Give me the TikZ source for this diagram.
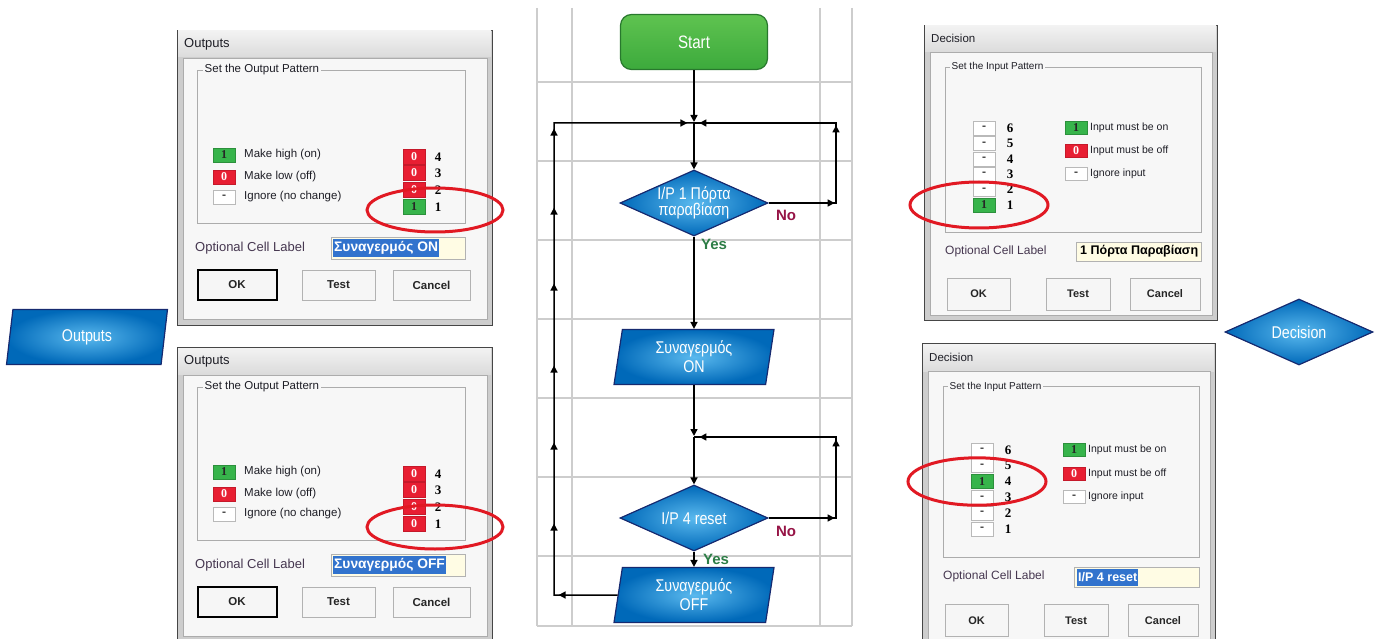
\documentclass[tikz,border=0pt]{standalone}
\usepackage{fontspec}
\setmainfont{Liberation Sans}
\newfontfamily\condf[FakeStretch=0.84]{Liberation Sans}
\newfontfamily\serf{Liberation Serif}
\usetikzlibrary{shapes.geometric,arrows.meta,decorations.markings}
\newcommand\fsz[1]{\fontsize{#1}{#1}\selectfont}
\newcommand\tri{\arrow{Triangle[length=7pt,width=7pt]}}
\definecolor{gridc}{RGB}{205,205,205}
\definecolor{bluein}{RGB}{90,185,238}
\definecolor{blueout}{RGB}{0,105,185}
\definecolor{blueedge}{RGB}{22,42,112}
\definecolor{gtop}{RGB}{95,195,80}
\definecolor{gbot}{RGB}{60,170,60}
\definecolor{gedge}{RGB}{40,120,45}
\definecolor{nocol}{RGB}{150,20,70}
\definecolor{yescol}{RGB}{45,125,70}
\definecolor{framec}{RGB}{205,205,205}
\definecolor{bodyc}{RGB}{247,247,247}
\definecolor{cgreen}{RGB}{55,180,75}
\definecolor{cred}{RGB}{232,30,50}
\definecolor{hl}{RGB}{50,115,205}
\definecolor{fieldc}{RGB}{255,252,228}
\definecolor{ellc}{RGB}{225,25,35}
\definecolor{lblc}{RGB}{70,55,80}
\definecolor{txt}{RGB}{30,30,38}
\tikzset{
 gridl/.style={draw=gridc, line width=1.1pt},
 flow/.style={line width=1.5pt, draw=black},
 arr/.style={flow, -{Triangle[length=7pt,width=7pt]}},
 blue/.style={inner color=bluein, outer color=blueout, draw=blueedge, line width=1.2pt, text=white, font=\condf\fsz{17}, align=center, inner sep=0pt},
 dec/.style={blue, diamond, aspect=2.24, minimum width=148pt, minimum height=66pt},
 para/.style={blue, trapezium, trapezium left angle=82, trapezium right angle=98, trapezium stretches=true, minimum width=161pt, minimum height=55pt},
 startbox/.style={rectangle, rounded corners=11pt, top color=gtop, bottom color=gbot, draw=gedge, line width=1.2pt, text=white, font=\condf\fsz{18}, minimum width=147pt, minimum height=55pt},
 nolab/.style={text=nocol, font=\bfseries\fsz{15}},
 yeslab/.style={text=yescol, font=\bfseries\fsz{15}},
 dtxt/.style={text=txt, inner sep=0pt, anchor=west},
 cellbase/.style={minimum width=22pt, minimum height=14pt, inner sep=0pt, font=\serf\bfseries\fsz{12}},
 cellg/.style={cellbase, fill=cgreen, draw=cgreen!80!black, text=black!85},
 cellr/.style={cellbase, fill=cred, draw=cred!85!black, text=white},
 cellw/.style={cellbase, fill=white, draw=gray!55, text=black},
 numf/.style={font=\serf\bfseries\fsz{13}, text=black, inner sep=0pt},
 btn/.style={draw=gray!60, fill=gray!7, line width=1pt, inner sep=0pt, text=black!85, font=\bfseries\fsz{11.5}},
 okbtn/.style={btn, draw=black, line width=2pt},
 ring/.style={draw=ellc, line width=3pt},
 field/.style={fill=fieldc, draw=gray!60},
}
% Outputs dialog: #1 prefix, #2 style of cell 1, #3 text of cell 1, #4 label
\newcommand\outdlg[4]{%
 \draw[fill=framec, draw=gray!55!black] (177,30) rectangle (492,325);
 \shade[top color=gray!10, bottom color=gray!28] (178,31) rectangle (491,57);
 \draw[fill=bodyc, draw=gray!65] (183,58) rectangle (487,319);
 \node[dtxt, font=\fsz{13}] (#1t) at (184,44) {Outputs};
 \draw[draw=gray!65, line width=0.8pt] (197,70) rectangle (465,223);
 \node[dtxt, fill=bodyc, inner sep=1.5pt, font=\fsz{11.5}] (#1g) at (203,70) {Set the Output Pattern};
 \node[cellg] (#1a) at (224,155) {1};
 \node[dtxt, font=\fsz{11.5}] (#1at) at (244,155) {Make high (on)};
 \node[cellr] (#1b) at (224,177) {0};
 \node[dtxt, font=\fsz{11.5}] (#1bt) at (244,177) {Make low (off)};
 \node[cellw] (#1c) at (224,197) {-};
 \node[dtxt, font=\fsz{11.5}] (#1ct) at (244,197) {Ignore (no change)};
 \node[cellr, minimum height=15pt] (#1c4) at (414,157) {0};
 \node[numf] (#1n4) at (438,157) {4};
 \node[cellr, minimum height=15pt] (#1c3) at (414,173) {0};
 \node[numf] (#1n3) at (438,173) {3};
 \node[cellr, minimum height=15pt] (#1c2) at (414,190) {0};
 \node[numf] (#1n2) at (438,190) {2};
 \node[#2, minimum height=15pt] (#1c1) at (414,207) {#3};
 \node[numf] (#1n1) at (438,207) {1};
 \draw[ring] (435,210) ellipse (68 and 22);
 \node[dtxt, font=\fsz{13}, text=lblc] (#1o) at (195,248) {Optional Cell Label};
 \draw[field] (331,237) rectangle (465,259);
 \node[dtxt, fill=hl, text=white, font=\bfseries\fsz{13.8}, inner sep=1pt, minimum height=18pt] (#1l) at (333,248) {#4};
 \node[okbtn, minimum width=79pt, minimum height=30pt] (#1ok) at (237,285) {OK};
 \node[btn, minimum width=73pt, minimum height=30pt] (#1te) at (338.5,285) {Test};
 \node[btn, minimum width=77pt, minimum height=30pt] (#1ca) at (431.5,285) {Cancel};
}
% Decision dialog: #1 prefix, #2 green row, #3 label, #4 label style
\newcommand\decdlg[4]{%
 \draw[fill=framec, draw=gray!55!black] (924,25) rectangle (1217,320);
 \shade[top color=gray!10, bottom color=gray!28] (925,26) rectangle (1216,52);
 \draw[fill=bodyc, draw=gray!65] (930,52) rectangle (1212,315);
 \node[dtxt, font=\fsz{11.5}] (#1t) at (931,38) {Decision};
 \draw[draw=gray!65, line width=0.8pt] (945,67) rectangle (1201,232);
 \node[dtxt, fill=bodyc, inner sep=1.5pt, font=\fsz{10}] (#1g) at (950,67) {Set the Input Pattern};
 \foreach \k in {1,...,6}{%
   \pgfmathsetmacro\yy{128+(6-\k)*15.4}%
   \ifnum\k=#2\relax \node[cellg] (#1c\k) at (984,\yy) {1};\else \node[cellw] (#1c\k) at (984,\yy) {-};\fi
   \node[numf] (#1n\k) at (1010,\yy) {\k};
 }
 \pgfmathsetmacro\ey{128+(6-#2)*15.4}
 \draw[ring] (979,\ey) ellipse (69 and 23);
 \node[cellg, minimum height=13pt] (#1a) at (1076,128) {1};
 \node[dtxt, font=\fsz{10.5}] (#1at) at (1090,128) {Input must be on};
 \node[cellr, minimum height=13pt] (#1b) at (1076,151) {0};
 \node[dtxt, font=\fsz{10.5}] (#1bt) at (1090,151) {Input must be off};
 \node[cellw, minimum height=13pt] (#1c) at (1076,174) {-};
 \node[dtxt, font=\fsz{10.5}] (#1ct) at (1090,174) {Ignore input};
 \node[dtxt, font=\fsz{12}, text=lblc] (#1o) at (945,251) {Optional Cell Label};
 \draw[field] (1076,242) rectangle (1201,261);
 \node[dtxt, font=\bfseries\fsz{12.5}, inner sep=1pt, minimum height=17pt, #4] (#1l) at (1079,251.5) {#3};
 \node[btn, minimum width=63pt, minimum height=32pt, font=\bfseries\fsz{11}] (#1ok) at (978.5,294) {OK};
 \node[btn, minimum width=64pt, minimum height=32pt, font=\bfseries\fsz{11}] (#1te) at (1078,294) {Test};
 \node[btn, minimum width=70pt, minimum height=32pt, font=\bfseries\fsz{11}] (#1ca) at (1165,294) {Cancel};
}
\begin{document}
\begin{tikzpicture}[x=1pt,y=-1pt]
\clip (0,0) rectangle (1379,639);
\fill[white] (0,0) rectangle (1379,639);
% grid
\foreach \x in {537,572,820,852} \draw[gridl] (\x,8) -- (\x,626);
\foreach \y in {82,161,240,319,398,477,556,626} \draw[gridl] (537,\y) -- (852,\y);
% flowchart
\node[startbox] (start) at (694,42) {Start};
\coordinate (j1) at (694,123);
\coordinate (j2) at (694,437);
\coordinate (lb) at (554,595);
\coordinate (lt) at (554,123);
\coordinate (r1b) at (836,203);
\coordinate (r1t) at (836,123);
\coordinate (r2b) at (836,518);
\coordinate (r2t) at (836,437);
\node[dec] (d1) at (694,203) {I/P 1 Πόρτα\\[-1pt]παραβίαση};
\node[para] (on) at (694,357) {Συναγερμός\\[2pt]ON};
\node[dec] (d2) at (694,518) {I/P 4 reset};
\node[yeslab] (yes2) at (716,559) {Yes};
\node[para] (off) at (694,595) {Συναγερμός\\[2pt]OFF};
\node[nolab] (no1) at (786,215) {No};
\node[yeslab] (yes1) at (714,244) {Yes};
\node[nolab] (no2) at (786,531) {No};
\draw[arr, shorten >=1pt] (start) -- (j1);
\draw[arr] (j1) -- (d1);
\draw[arr] (d1) -- (on);
\draw[arr, shorten >=1pt] (on) -- (j2);
\draw[arr] (j2) -- (d2);
\draw[arr] (d2) -- (off);
\draw[flow, decoration={markings,
   mark=at position 59pt with {\tri},
   mark=at position 135pt with {\tri},
   mark=at position 216pt with {\tri},
   mark=at position 293pt with {\tri},
   mark=at position 375pt with {\tri},
   mark=at position 451pt with {\tri},
   mark=at position 530pt with {\tri},
   mark=at position 669pt with {\tri}}, postaction={decorate}]
  (off.west) -- (lb) -- (lt) -- (j1);
\draw[flow, decoration={markings,
   mark=at position 66pt with {\tri},
   mark=at position 145pt with {\tri},
   mark=at position 284pt with {\tri}}, postaction={decorate}]
  (d1.east) -- (r1b) -- (r1t) -- (j1);
\draw[flow, decoration={markings,
   mark=at position 66pt with {\tri},
   mark=at position 146pt with {\tri},
   mark=at position 285pt with {\tri}}, postaction={decorate}]
  (d2.east) -- (r2b) -- (r2t) -- (j2);
% side shapes
\node[para] (outs) at (87,337) {Outputs};
\node[dec] (decs) at (1299,332) {Decision};
% dialogs
\outdlg{oa}{cellg}{1}{Συναγερμός ON}
\begin{scope}[shift={(0,317)}]
\outdlg{ob}{cellr}{0}{Συναγερμός OFF}
\end{scope}
\decdlg{da}{1}{1 Πόρτα Παραβίαση}{text=black}
\begin{scope}[shift={(-2,317.8)}, yscale=1.031]
\decdlg{db}{4}{I/P 4 reset}{fill=hl,text=white}
\end{scope}
\end{tikzpicture}
\end{document}
